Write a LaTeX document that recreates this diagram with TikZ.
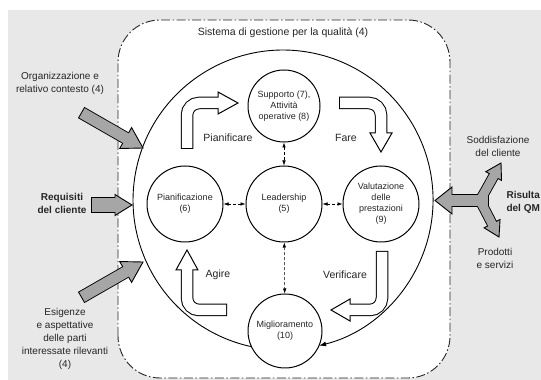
\documentclass[tikz,border=0pt]{standalone}
\usepackage{fontspec}
\setmainfont{Liberation Sans}
\usetikzlibrary{arrows.meta}
\tikzset{
  backdrop/.style={fill=black!9, draw=none},
  frame/.style={fill=white, draw=black!85, line width=0.9pt, rounded corners=42pt,
    dash pattern=on 9pt off 2.5pt on 1.5pt off 2.5pt},
  ring/.style={draw=black, line width=0.9pt, -{Latex[length=7pt,width=5pt]}},
  stage/.style={circle, draw=black, line width=1pt, fill=white, inner sep=0pt,
    align=center, text=black!85, font=\fontsize{9}{11}\selectfont},
  link/.style={draw=black, line width=0.5pt, densely dashed,
    {Latex[length=5pt,width=3.5pt]}-{Latex[length=5pt,width=3.5pt]}},
  hollowout/.style={line width=12.5pt, draw=black, line cap=butt, rounded corners=12pt, shorten <=-1pt},
  hollowfill/.style={line width=10.5pt, draw=white, line cap=butt, rounded corners=12pt, shorten >=-1.5pt},
  hollowhead/.style={fill=white, draw=black, line width=1pt, line join=miter},
  greyout/.style={line width=12.8pt, draw=black, line cap=butt, shorten <=-1pt},
  greyfill/.style={line width=11pt, draw=black!35, line cap=butt, shorten >=-1.5pt},
  greyhead/.style={fill=black!35, draw=black, line width=0.9pt, line join=miter},
  sidetext/.style={align=center, text=black!85, font=\fontsize{10}{13}\selectfont},
  cycletext/.style={text=black!85, font=\fontsize{10.5}{12}\selectfont},
}

\begin{document}
\begin{tikzpicture}[x=1pt, y=1pt]
\useasboundingbox (0,0) rectangle (541,380);
\fill[backdrop] (8,0) rectangle (541,370);
\draw[frame] (118,2) rectangle (450,360);
\node[cycletext] (title) at (283,347) {Sistema di gestione per la qualità (4)};

% ciclo esterno
\draw[ring] (251.6,33.3) arc[start angle=257.9, end angle=-76.1, radius=150];

% frecce PDCA
\draw[hollowout] (187,232) -- (187,277) -- (218,277);
\draw[hollowout] (340,277) -- (381,277) -- (381,247);
\draw[hollowout] (382,128) -- (382,70) -- (350,70);
\draw[hollowout] (226,70) -- (187,70) -- (187,110);
\draw[hollowhead] (238,277) -- (218,288) -- (218,266) -- cycle;
\draw[hollowhead] (381,228) -- (370,247) -- (392,247) -- cycle;
\draw[hollowhead] (331,70) -- (350,81) -- (350,59) -- cycle;
\draw[hollowhead] (187,130) -- (176,110) -- (198,110) -- cycle;
\draw[hollowfill] (187,232) -- (187,277) -- (218,277);
\draw[hollowfill] (340,277) -- (381,277) -- (381,247);
\draw[hollowfill] (382,128) -- (382,70) -- (350,70);
\draw[hollowfill] (226,70) -- (187,70) -- (187,110);

% ingressi
\draw[greyout] (82,267) -- (125.65,241.95);
\draw[greyout, line width=15.8pt] (92,175) -- (115,175);
\draw[greyout] (82,83) -- (125.65,108.05);
\draw[greyhead] (143,232) -- (131.6,252.4) -- (119.7,231.5) -- cycle;
\draw[greyhead] (132,175) -- (115,185.5) -- (115,164.5) -- cycle;
\draw[greyhead] (143,118) -- (119.68,118.46) -- (131.62,97.64) -- cycle;
\draw[greyfill] (82,267) -- (125.65,241.95);
\draw[greyfill, line width=14pt] (92,175) -- (115,175);
\draw[greyfill] (82,83) -- (125.65,108.05);

% uscite
\draw[greyout] (488,179.5) -- (452,179.5);
\draw[greyout, line width=10.8pt] (480,179.5) -- (493.67,203.92);
\draw[greyout, line width=10.8pt] (480,179.5) -- (492.07,156.31);
\draw[greyhead] (435,179.5) -- (452,193) -- (452,166) -- cycle;
\draw[greyhead] (501,217) -- (485.82,208.32) -- (501.52,199.52) -- cycle;
\draw[greyhead] (499,143) -- (500.05,160.46) -- (484.09,152.15) -- cycle;
\draw[greyfill] (488,179.5) -- (452,179.5);
\draw[greyfill, line width=9pt] (480,179.5) -- (493.67,203.92);
\draw[greyfill, line width=9pt] (480,179.5) -- (492.07,156.31);

% processi
\node[stage, minimum size=72pt] (supp) at (284,274) {Supporto (7),\\Attività\\operative (8)};
\node[stage, minimum size=76pt] (plan) at (185,176) {Pianificazione\\(6)};
\node[stage, minimum size=76pt] (lead) at (284,176) {Leadership\\(5)};
\node[stage, minimum size=76pt] (valu) at (381,176) {Valutazione\\delle\\prestazioni\\(9)};
\node[stage, minimum size=74pt] (migl) at (285,49) {Miglioramento\\(10)};
\draw[link] (plan) -- (lead);
\draw[link] (lead) -- (valu);
\draw[link] (supp) -- (lead);
\draw[link] (lead) -- (migl);

\node[cycletext] (pdcap) at (228,242) {Pianificare};
\node[cycletext] (pdcaf) at (346,242) {Fare};
\node[cycletext] (pdcav) at (345,105) {Verificare};
\node[cycletext] (pdcaa) at (218,105) {Agire};

\node[sidetext] (orgtext) at (60,296.5) {Organizzazione e\\relativo contesto (4)};
\node[sidetext, font=\fontsize{10}{13}\selectfont\bfseries] (reqtext) at (62,176.5) {Requisiti\\del cliente};
\node[sidetext] (esitext) at (65,41) {Esigenze\\e aspettative\\delle parti\\interessate rilevanti\\(4)};
\node[sidetext] (sodtext) at (498,233.5) {Soddisfazione\\del cliente};
\node[sidetext, align=left, anchor=west, font=\fontsize{10}{13}\selectfont\bfseries] (restext) at (503,177.5) {Risulta\\del QM};
\node[sidetext] (protext) at (495,121.5) {Prodotti\\e servizi};
\end{tikzpicture}
\end{document}
